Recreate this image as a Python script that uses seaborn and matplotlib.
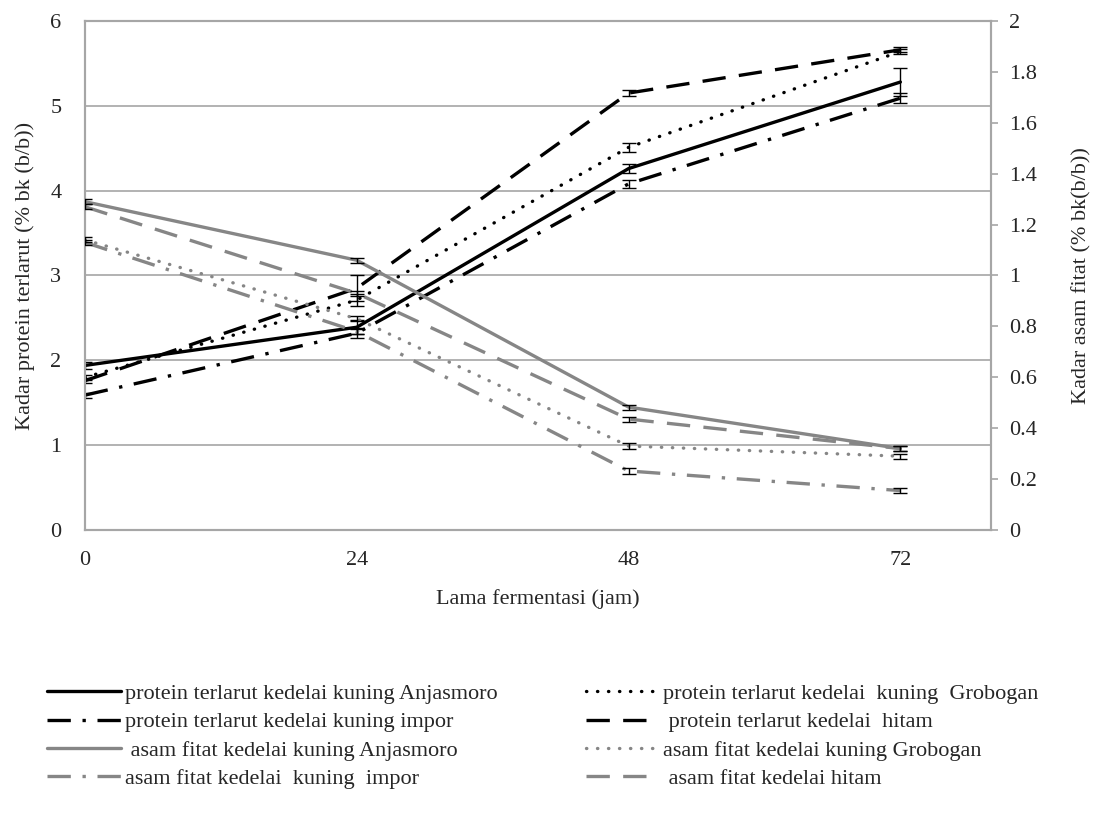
import matplotlib
matplotlib.use("Agg")
import matplotlib.pyplot as plt
import numpy as np
import pandas as pd
import seaborn as sns

# %%
hours = [0, 24, 48, 72]

# protein terlarut (% bk), left axis
protein_anjasmoro = [1.94, 2.39, 4.26, 5.28]
protein_grobogan = [1.80, 2.71, 4.51, 5.64]
protein_impor = [1.59, 2.32, 4.08, 5.09]
protein_hitam = [1.76, 2.85, 5.15, 5.66]
protein_anjasmoro_err = [0.04, 0.08, 0.05, 0.16]
protein_grobogan_err = [0.03, 0.07, 0.05, 0.03]
protein_impor_err = [0.03, 0.06, 0.05, 0.06]
protein_hitam_err = [0.03, 0.15, 0.04, 0.03]

# asam fitat (% bk), right axis
fitat_anjasmoro = [1.29, 1.06, 0.483, 0.32]
fitat_grobogan = [1.14, 0.83, 0.33, 0.29]
fitat_impor = [1.13, 0.78, 0.232, 0.155]
fitat_hitam = [1.27, 0.93, 0.436, 0.32]
fitat_anjasmoro_err = [0.01, 0.01, 0.01, 0.01]
fitat_grobogan_err = [0.01, 0.01, 0.01, 0.01]
fitat_impor_err = [0.01, 0.01, 0.01, 0.01]
fitat_hitam_err = [0.01, 0.01, 0.01, 0.01]

labels = {
    "pA": "protein terlarut kedelai kuning Anjasmoro",
    "pG": "protein terlarut kedelai  kuning  Grobogan",
    "pI": "protein terlarut kedelai kuning impor",
    "pH": " protein terlarut kedelai  hitam",
    "fA": " asam fitat kedelai kuning Anjasmoro",
    "fG": "asam fitat kedelai kuning Grobogan",
    "fI": "asam fitat kedelai  kuning  impor",
    "fH": " asam fitat kedelai hitam",
}

# %%
sns.set_theme(style="white")
plt.rcParams["font.family"] = ["Liberation Serif", "DejaVu Serif"]
plt.rcParams["font.size"] = 16

BLACK = "black"
GRAY = "#868686"
AXIS_GRAY = "#a6a6a6"
LW = 2.4

dotted = (0, (0.1, 3.2))
dashed = (0, (7, 4))
dashdot = (0, (7, 3.5, 1, 3.5))

fig = plt.figure(figsize=(10.99, 8.38), dpi=100)
ax = fig.add_axes([0.0773, 0.3675, 0.8244, 0.6075])
ax2 = ax.twinx()

series = [
    ("pA", ax, protein_anjasmoro, protein_anjasmoro_err, BLACK, "-"),
    ("pG", ax, protein_grobogan, protein_grobogan_err, BLACK, dotted),
    ("pI", ax, protein_impor, protein_impor_err, BLACK, dashdot),
    ("pH", ax, protein_hitam, protein_hitam_err, BLACK, dashed),
    ("fA", ax2, fitat_anjasmoro, fitat_anjasmoro_err, GRAY, "-"),
    ("fG", ax2, fitat_grobogan, fitat_grobogan_err, GRAY, dotted),
    ("fI", ax2, fitat_impor, fitat_impor_err, GRAY, dashdot),
    ("fH", ax2, fitat_hitam, fitat_hitam_err, GRAY, dashed),
]

handles = {}
for key, axis, vals, err, color, ls in series:
    sns.lineplot(x=hours, y=vals, ax=axis, color=color, linestyle=ls,
                 linewidth=LW, dash_capstyle="round" if ls == dotted else "butt",
                 label=labels[key], legend=False)
    handles[key] = axis.lines[-1]
    axis.errorbar(hours, vals, yerr=err, fmt="none", ecolor="black",
                  elinewidth=1, capsize=5, capthick=1, zorder=5)

ax.set_xlim(0, 80)
ax.set_ylim(0, 6)
ax2.set_ylim(0, 2)
ax.set_xticks([0, 24, 48, 72])
ax.set_yticks(range(0, 7))
ax2.set_yticks(np.arange(0, 2.01, 0.2))
ax2.set_yticklabels(["0", "0.2", "0.4", "0.6", "0.8", "1", "1.2", "1.4",
                     "1.6", "1.8", "2"])

ax.grid(axis="y", color=AXIS_GRAY, linewidth=1.2)
ax.grid(axis="x", visible=False)
for axis in (ax, ax2):
    for sp in axis.spines.values():
        sp.set_color(AXIS_GRAY)
        sp.set_linewidth(1.5)
ax.tick_params(left=False, bottom=False, labelsize=16)
ax.tick_params(axis="x", pad=9)
ax.tick_params(axis="y", pad=11)
ax2.tick_params(right=True, direction="out", length=5, width=1.2,
                color=AXIS_GRAY, labelsize=16, pad=8)

ax.set_xlabel("Lama fermentasi (jam)", fontsize=16, labelpad=14)
ax.set_ylabel("Kadar protein terlarut (% bk (b/b))", fontsize=16, labelpad=11)
ax2.set_ylabel("Kadar asam fitat (% bk(b/b))", fontsize=16, labelpad=25)

order = ["pA", "pI", "fA", "fI", "pG", "pH", "fG", "fH"]
fig.legend([handles[k] for k in order], [labels[k] for k in order],
           loc="upper left", bbox_to_anchor=(0.035, 0.195), ncol=2,
           frameon=False, fontsize=16, handlelength=3.3, handletextpad=0.2,
           columnspacing=3.95, labelspacing=0.35, borderaxespad=0)

fig.savefig("out.png", dpi=100)
